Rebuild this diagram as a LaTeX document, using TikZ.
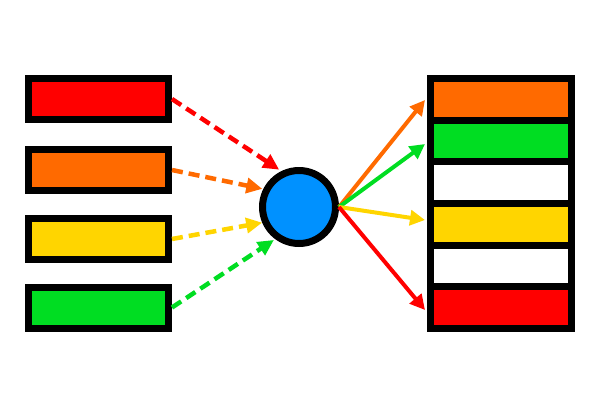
\documentclass[tikz,border=0pt]{standalone}
\usetikzlibrary{arrows.meta}
\definecolor{cred}{RGB}{255,0,0}
\definecolor{corange}{RGB}{255,106,0}
\definecolor{cyellow}{RGB}{255,213,0}
\definecolor{cgreen}{RGB}{0,221,34}
\definecolor{cblue}{RGB}{0,145,255}
\begin{document}
\begin{tikzpicture}[x=1pt,y=-1pt,
 bar/.style={draw=black,line width=7pt,minimum width=140pt,minimum height=41pt,inner sep=0pt},
 cell/.style={draw=black,line width=7pt,minimum width=141pt,minimum height=41.67pt,inner sep=0pt},
 hub/.style={circle,draw=black,line width=7pt,fill=cblue,minimum size=73pt,inner sep=0pt},
 din/.style={line width=4.5pt,dash pattern=on 11pt off 6pt,-{Triangle[length=16pt,width=15pt]}},
 dout/.style={line width=4pt,-{Triangle[length=15pt,width=15pt]}}]
\useasboundingbox (0,0) rectangle (600,400);
% left bars
\node[bar,fill=cred] (b1) at (98.5,99) {};
\node[bar,fill=corange] (b2) at (98.5,170) {};
\node[bar,fill=cyellow] (b3) at (98.5,239) {};
\node[bar,fill=cgreen] (b4) at (98.5,307.5) {};
% hub
\node[hub] (c) at (299,207) {};
% right stack
\node[cell,fill=corange] (r1) at (501,99.33) {};
\node[cell,fill=cgreen] (r2) at (501,141.0) {};
\node[cell,fill=white] (r3) at (501,182.67) {};
\node[cell,fill=cyellow] (r4) at (501,224.33) {};
\node[cell,fill=white] (r5) at (501,266.0) {};
\node[cell,fill=cred] (r6) at (501,307.67) {};
% end points of outgoing arrows
\coordinate (t1) at (425,100);
\coordinate (t2) at (425,144);
\coordinate (t4) at (425,220);
\coordinate (t6) at (425,310);
% incoming dashed arrows
\draw[din,cred] (b1.east) -- ([shift={(-1,-2)}]c.118);
\draw[din,corange] (b2.east) -- ([shift={(-1,0)}]c.153);
\draw[din,cyellow] (b3.east) -- (c.203);
\draw[din,cgreen] (b4.east) -- ([shift={(-1,1)}]c.233);
% outgoing arrows
\draw[dout,corange] (c.east) -- (t1);
\draw[dout,cgreen] (c.east) -- (t2);
\draw[dout,cyellow] (c.east) -- (t4);
\draw[dout,cred] (c.east) -- (t6);
\end{tikzpicture}
\end{document}
